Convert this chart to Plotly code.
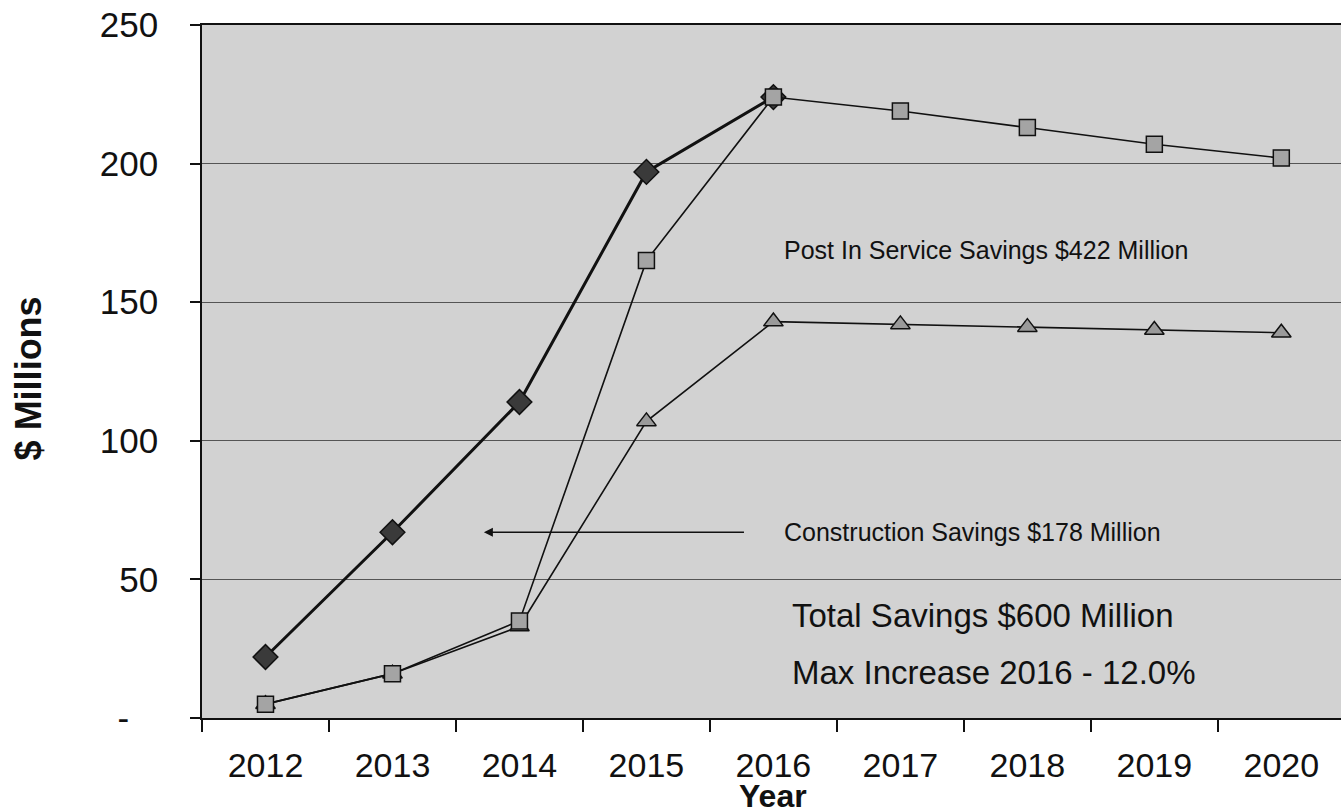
import plotly.graph_objects as go

# Annual savings, $ millions
years = ["2012", "2013", "2014", "2015", "2016", "2017", "2018", "2019", "2020"]
total_savings = [22, 67, 114, 197, 224]
post_in_service = [5, 16, 35, 165, 224, 219, 213, 207, 202]
construction = [5, 16, 33, 107, 143, 142, 141, 140, 139]

y_ticks = [0, 50, 100, 150, 200, 250]
y_tick_text = ["-\u00a0\u00a0\u00a0", "50", "100", "150", "200", "250"]

FONT = "Liberation Sans, Arial, sans-serif"

fig = go.Figure()

fig.add_trace(go.Scatter(
    x=years[:len(total_savings)], y=total_savings, mode="lines+markers",
    line=dict(color="#111111", width=3),
    marker=dict(symbol="diamond", size=19, color="#3a3a3a",
                line=dict(color="#111111", width=1.5)),
    cliponaxis=False,
    showlegend=False,
))
fig.add_trace(go.Scatter(
    x=years, y=construction, mode="lines+markers",
    line=dict(color="#111111", width=1.6),
    marker=dict(symbol="triangle-up", size=17, color="#9a9a9a",
                line=dict(color="#111111", width=1.5)),
    showlegend=False,
))
fig.add_trace(go.Scatter(
    x=years, y=post_in_service, mode="lines+markers",
    line=dict(color="#111111", width=1.6),
    marker=dict(symbol="square", size=16, color="#a4a4a4",
                line=dict(color="#111111", width=1.5)),
    showlegend=False,
))

annotations = [
    dict(x=4.07, y=169, xref="x", yref="y", text="Post In Service Savings $422 Million",
         showarrow=False, xanchor="left", yanchor="middle",
         font=dict(family=FONT, size=25, color="#111111")),
    dict(x=4.07, y=67, xref="x", yref="y", text="Construction Savings $178 Million",
         showarrow=False, xanchor="left", yanchor="middle",
         font=dict(family=FONT, size=25, color="#111111")),
    dict(x=1.72, y=67, ax=3.78, ay=67, xref="x", yref="y", axref="x", ayref="y",
         text="", showarrow=True, arrowhead=2, arrowsize=1.2, arrowwidth=1.5,
         arrowcolor="#111111"),
    dict(x=4.13, y=37, xref="x", yref="y", text="Total Savings $600 Million",
         showarrow=False, xanchor="left", yanchor="middle",
         font=dict(family=FONT, size=33, color="#111111")),
    dict(x=4.13, y=16.5, xref="x", yref="y", text="Max Increase 2016 - 12.0%",
         showarrow=False, xanchor="left", yanchor="middle",
         font=dict(family=FONT, size=33, color="#111111")),
    dict(x=4.0, y=-0.113, xref="x", yref="paper", text="<b>Year</b>",
         showarrow=False, xanchor="center", yanchor="middle",
         font=dict(family=FONT, size=32, color="#111111")),
    dict(x=-0.1528, y=0.49, xref="paper", yref="paper", text="<b>$ Millions</b>",
         showarrow=False, textangle=-90, xanchor="center", yanchor="middle",
         font=dict(family=FONT, size=36, color="#111111")),
]

fig.update_layout(
    width=1341, height=810,
    margin=dict(l=202, r=0, t=25, b=92),
    paper_bgcolor="white",
    plot_bgcolor="#d2d2d2",
    font=dict(family=FONT, size=34, color="#111111"),
    annotations=annotations,
    showlegend=False,
)

fig.update_xaxes(
    type="category",
    range=[-0.5, 8.47],
    tickson="boundaries",
    ticks="outside", ticklen=12, tickwidth=1.5, tickcolor="#111111",
    showline=True, linecolor="#111111", linewidth=1.5, mirror=True,
    showgrid=False, zeroline=False,
    tickfont=dict(family=FONT, size=34, color="#111111"),
    ticklabelstandoff=16,
)
fig.update_yaxes(
    range=[0, 250],
    tickvals=y_ticks, ticktext=y_tick_text,
    ticks="outside", ticklen=10, tickwidth=1.5, tickcolor="#111111",
    showline=True, linecolor="#111111", linewidth=1.5,
    showgrid=True, gridcolor="#555555", gridwidth=1.2,
    zeroline=False,
    tickfont=dict(family=FONT, size=35, color="#111111"),
    ticklabelstandoff=25,
)

fig.write_html("out.html")
